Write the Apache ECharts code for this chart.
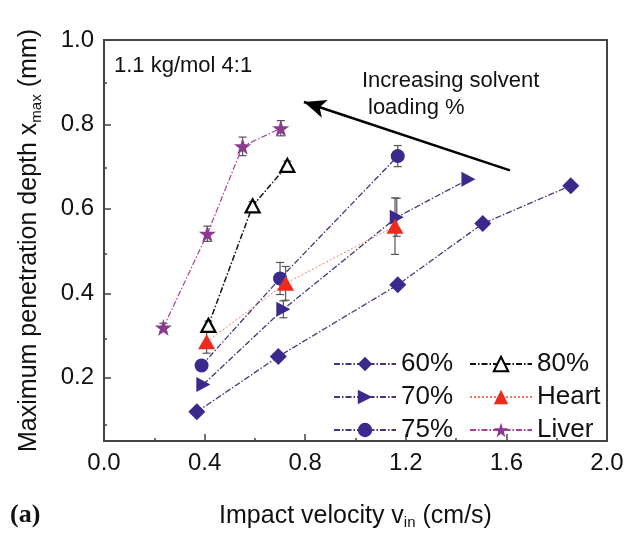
<!DOCTYPE html>
<html>
<head>
<meta charset="utf-8">
<script src="https://cdn.jsdelivr.net/npm/echarts@6/dist/echarts.min.js"></script>
<style>
  html, body { margin: 0; padding: 0; background: #fff; }
  #chart { width: 627px; height: 535px; }
</style>
</head>
<body>
<div id="chart"></div>
<script>
// impact velocity (cm/s) and max penetration depth (mm)
const v60 = [0.369, 0.693, 1.168, 1.506, 1.856];
const d60 = [0.119, 0.250, 0.420, 0.565, 0.655];
const e60 = [0, 0, 0, 0, 0];

const v70 = [0.395, 0.713, 1.164, 1.449];
const d70 = [0.184, 0.362, 0.580, 0.670];
const e70 = [0, 0.020, 0.045, 0];

const v75 = [0.388, 0.700, 1.168];
const d75 = [0.229, 0.435, 0.725];
const e75 = [0, 0.038, 0.025];

const v80 = [0.415, 0.591, 0.729];
const d80 = [0.324, 0.607, 0.703];
const e80 = [0.010, 0.010, 0.010];

const vHeart = [0.408, 0.722, 1.157];
const dHeart = [0.285, 0.4235, 0.559];
const eHeart = [0.027, 0.040, 0.067];

const vLiver = [0.236, 0.411, 0.551, 0.703];
const dLiver = [0.319, 0.541, 0.748, 0.791];
const eLiver = [0.010, 0.018, 0.022, 0.018];

const yMajor = [0.2, 0.4, 0.6, 0.8, 1.0];
const yMinor = [0.1, 0.3, 0.5, 0.7, 0.9];
const arrowFrom = [1.614, 0.691];
const arrowTo = [0.795, 0.853];

const FONT = 'Liberation Sans';
const STAR = 'path://M50 0 L61.8 35.4 L99 35.4 L69 57.3 L80.3 92.7 L50 70.8 L19.7 92.7 L31 57.3 L1 35.4 L38.2 35.4 Z';
const dashDot = [6, 2, 1.5, 2];

const pairs = (xs, ys) => xs.map((x, i) => [x, ys[i]]);
const triples = (xs, ys, es) => xs.map((x, i) => [x, ys[i], es[i]]);

const renderErr = (params, api) => {
  const x = api.value(0), y = api.value(1), e = api.value(2);
  if (!e) return null;
  const top = api.coord([x, y + e]);
  const bot = api.coord([x, y - e]);
  const w = 4;
  const style = { stroke: '#555', lineWidth: 1.2 };
  return {
    type: 'group',
    children: [
      { type: 'line', shape: { x1: top[0], y1: top[1], x2: bot[0], y2: bot[1] }, style },
      { type: 'line', shape: { x1: top[0] - w, y1: top[1], x2: top[0] + w, y2: top[1] }, style },
      { type: 'line', shape: { x1: bot[0] - w, y1: bot[1], x2: bot[0] + w, y2: bot[1] }, style }
    ]
  };
};

const errSeries = (xs, ys, es) => ({
  type: 'custom',
  renderItem: renderErr,
  data: triples(xs, ys, es),
  encode: { x: 0, y: 1 },
  z: 1,
  silent: true
});

const lineSeries = (name, xs, ys, symbol, size, color, line, extra) => Object.assign({
  name: name,
  type: 'line',
  data: pairs(xs, ys),
  symbol: symbol,
  symbolSize: size,
  itemStyle: { color: color },
  lineStyle: line,
  z: 3
}, extra || {});

const navyLine = { color: '#3b3a78', width: 1.3, type: dashDot };

const legendText = { fontSize: 26, color: '#111', lineHeight: 28, fontFamily: FONT };

const option = {
  animation: false,
  textStyle: { fontFamily: FONT },
  grid: [
    { left: 104, right: 20, top: 40, bottom: 89, show: true, borderColor: '#444', borderWidth: 2 },
    { left: 104, right: 20, top: 40, bottom: 89 }
  ],
  xAxis: [
    {
      type: 'value', min: 0, max: 2, interval: 0.4,
      name: 'Impact velocity v{sub|in} (cm/s)',
      nameLocation: 'middle', nameGap: 62,
      nameTextStyle: {
        fontSize: 25, color: '#111', fontFamily: FONT,
        rich: { sub: { fontSize: 15, color: '#111', fontFamily: FONT, padding: [12, 0, 0, 0] } }
      },
      axisLine: { show: true, lineStyle: { color: '#444', width: 2 } },
      axisTick: { show: true, inside: true, length: 7, lineStyle: { color: '#444', width: 1.5 } },
      minorTick: { show: true, splitNumber: 2, length: 3, lineStyle: { color: '#444', width: 1.5 } },
      axisLabel: { fontSize: 24, color: '#111', margin: 10, formatter: v => v.toFixed(1) },
      splitLine: { show: false }
    },
    { type: 'value', gridIndex: 1, min: 0, max: 2, show: false }
  ],
  yAxis: [
    {
      type: 'value', min: 0.05, max: 1.0,
      name: 'Maximum penetration depth x{sub|max} (mm)',
      nameLocation: 'middle', nameGap: 60,
      nameTextStyle: {
        fontSize: 25, color: '#111', fontFamily: FONT,
        rich: { sub: { fontSize: 15, color: '#111', fontFamily: FONT, padding: [14, 0, 0, 0] } }
      },
      axisLine: { show: true, lineStyle: { color: '#444', width: 2 } },
      axisTick: { show: true, inside: true, length: 7, customValues: yMajor, lineStyle: { color: '#444', width: 1.5 } },
      axisLabel: { fontSize: 24, color: '#111', margin: 10, customValues: yMajor, formatter: v => v.toFixed(1) },
      splitLine: { show: false }
    },
    {
      type: 'value', gridIndex: 1, min: 0.05, max: 1.0,
      axisLine: { show: false },
      axisTick: { show: true, inside: true, length: 3, customValues: yMinor, lineStyle: { color: '#444', width: 1.5 } },
      axisLabel: { show: false },
      splitLine: { show: false }
    }
  ],
  legend: [
    {
      data: ['60%', '70%', '75%'],
      orient: 'vertical', left: 328, top: 345,
      itemWidth: 62, itemHeight: 18, itemGap: 5,
      textStyle: legendText
    },
    {
      data: ['80%', 'Heart', 'Liver'],
      orient: 'vertical', left: 464, top: 345,
      itemWidth: 62, itemHeight: 18, itemGap: 5,
      textStyle: legendText
    }
  ],
  graphic: [
    { type: 'text', left: 114, top: 55, style: { text: '1.1 kg/mol 4:1', fontSize: 22, fontFamily: FONT, fill: '#111' } },
    { type: 'text', left: 362, top: 70, style: { text: 'Increasing solvent', fontSize: 22, fontFamily: FONT, fill: '#111' } },
    { type: 'text', left: 368, top: 97, style: { text: 'loading %', fontSize: 22, fontFamily: FONT, fill: '#111' } },
    { type: 'text', left: 10, top: 502, style: { text: '(a)', fontSize: 26, fontWeight: 'bold', fontFamily: 'Liberation Serif', fill: '#111' } }
  ],
  series: [
    errSeries(v60, d60, e60),
    errSeries(v70, d70, e70),
    errSeries(v75, d75, e75),
    errSeries(v80, d80, e80),
    errSeries(vHeart, dHeart, eHeart),
    errSeries(vLiver, dLiver, eLiver),
    lineSeries('60%', v60, d60, 'diamond', 17, '#3a2a8c', navyLine),
    lineSeries('70%', v70, d70, 'triangle', [15, 14], '#3a2a8c', navyLine, { symbolRotate: -90 }),
    lineSeries('75%', v75, d75, 'circle', 14, '#3a2a8c', navyLine),
    lineSeries('80%', v80, d80, 'triangle', [14, 13], '#111',
      { color: '#111', width: 1.5, type: dashDot },
      { itemStyle: { color: '#fff', borderColor: '#000', borderWidth: 2.2 } }),
    lineSeries('Heart', vHeart, dHeart, 'triangle', [17, 15], '#ee2a1e', { color: '#f07a6a', width: 1, type: [2, 2] }),
    lineSeries('Liver', vLiver, dLiver, STAR, 17, '#8b3a8f', { color: '#a8409e', width: 1.2, type: dashDot }),
    {
      type: 'line', data: [], silent: true,
      markLine: {
        silent: true,
        symbol: ['none', 'arrow'], symbolSize: [14, 22],
        itemStyle: { color: '#000' },
        lineStyle: { color: '#000', width: 2.5, type: 'solid' },
        label: { show: false },
        data: [[{ coord: arrowFrom }, { coord: arrowTo }]]
      }
    }
  ]
};

const chart = echarts.init(document.getElementById('chart'));
chart.setOption(option);
</script>
</body>
</html>
